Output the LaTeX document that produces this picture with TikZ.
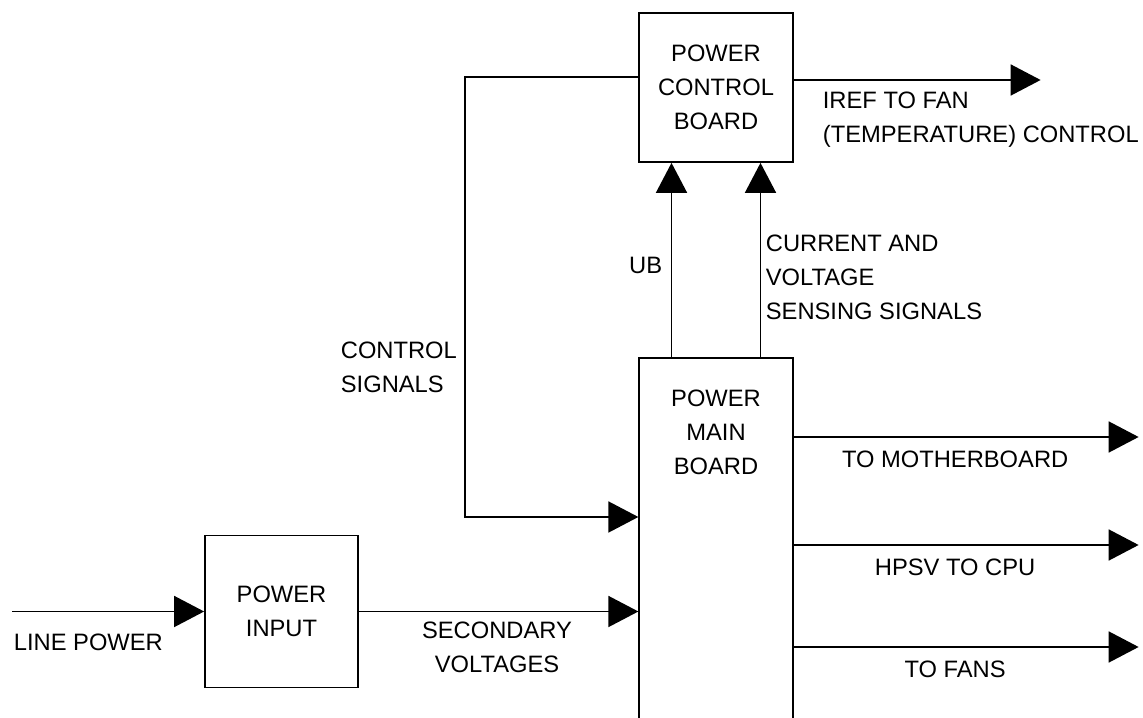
\documentclass[tikz,border=0pt]{standalone}
\usepackage{fontspec}
\setmainfont{Liberation Sans}
\usetikzlibrary{shapes, arrows.meta, positioning}

\begin{document}
\begin{tikzpicture}[line width=1pt, every node/.style={font=\fontsize{13.5}{19.3}\selectfont}]
        % styles for the boards, the texts and the arrows
        \tikzstyle{board} = [rectangle, minimum width=3.07cm, draw=black, align=center]
        \tikzstyle{note} = [inner sep=0pt, align=left]
        \tikzstyle{arrow} = [-{Triangle[length=0.6cm, width=0.62cm]}]

        \useasboundingbox (0,0) rectangle (22.86,-14.36);

        % the three boards
        \node (ctrl) [board, minimum height=2.98cm] at (14.32,-1.75) {POWER\\CONTROL\\BOARD};
        \node (main) [board, minimum height=7.8cm] at (14.32,-11.06) {};
        \node (mainname) [align=center] at ([yshift=-1.5cm]main.north) {POWER\\MAIN\\BOARD};
        \node (input) [board, minimum height=3.04cm, minimum width=3.06cm] at (5.63,-12.23) {POWER\\INPUT};

        % line power into the power input
        \coordinate (mains) at (0.24,-12.23);
        \draw [arrow] (mains) -- (input.west);
        \node (linepower) [note, anchor=west] at (0.26,-12.84) {LINE POWER};

        % secondary voltages
        \draw [arrow] (input.east) -- (input.east -| main.west);
        \node (secondary) [align=center] at (9.94,-12.94) {SECONDARY\\VOLTAGES};

        % control signals
        \draw [arrow] ([yshift=0.21cm]ctrl.west) -- ++(-3.46,0) |- ([yshift=0.72cm]main.west);
        \node (signals) [note, anchor=west] at (6.8,-7.35) {CONTROL\\SIGNALS};

        % UB and sensing signals
        \draw [arrow] ([xshift=-0.89cm]main.north) -- ([xshift=-0.89cm]ctrl.south);
        \draw [arrow] ([xshift=0.89cm]main.north) -- ([xshift=0.89cm]ctrl.south);
        \node (ub) [note, anchor=east] at (13.26,-5.3) {UB};
        \node (sensing) [note, anchor=west] at (15.3,-5.54) {CURRENT AND\\VOLTAGE\\SENSING SIGNALS};

        % IREF
        \draw [arrow] ([yshift=0.15cm]ctrl.east) -- ++(4.94,0);
        \node (iref) [note, anchor=west] at (16.44,-2.4) {IREF TO FAN\\(TEMPERATURE) CONTROL};

        % outputs of the main board
        \foreach \y/\txt [count=\i] in {-8.74/TO MOTHERBOARD, -10.9/HPSV TO CPU, -12.94/TO FANS}
            \draw [arrow] (main.east |- 0,\y) -- ++(6.9,0)
                node (out\i) [pos=0.5, xshift=-0.22cm, yshift=-0.45cm] {\txt};

    \end{tikzpicture}
\end{document}
